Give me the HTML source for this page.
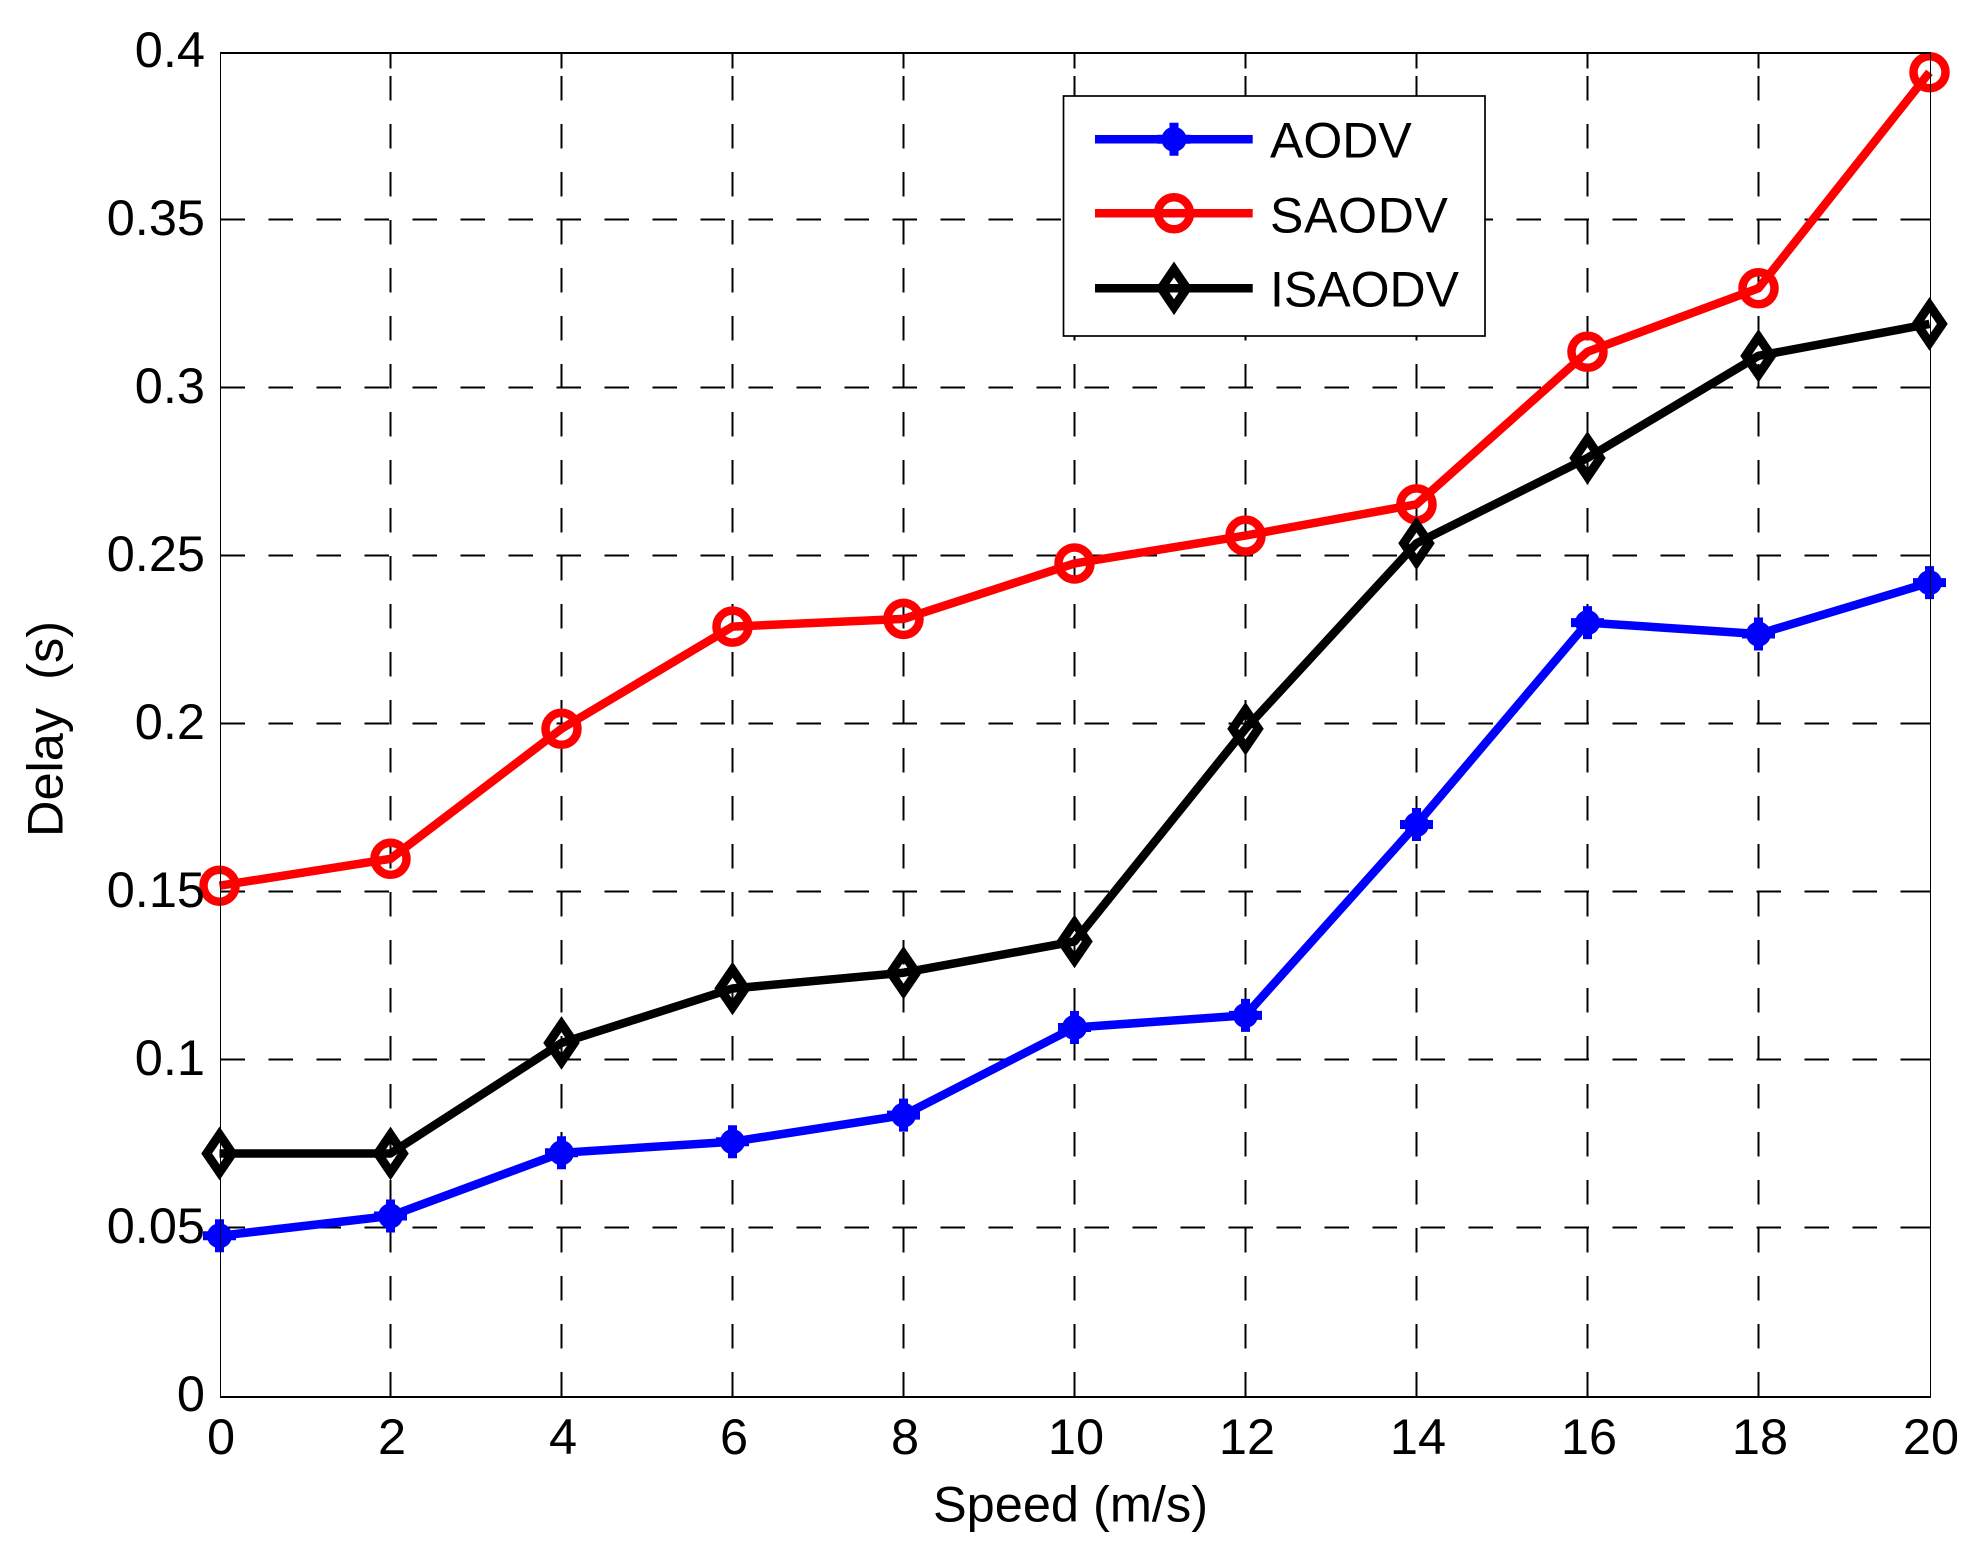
<!DOCTYPE html>
<html lang="en">
<head>
<meta charset="utf-8">
<title>Delay vs Speed</title>
<style>
html,body{margin:0;padding:0;background:#fff;}
body{width:1983px;height:1550px;overflow:hidden;}
svg{display:block;}
text{font-family:"Liberation Sans",Arial,sans-serif;font-size:50.5px;fill:#000;}
</style>
</head>
<body>
<svg id="chart" width="1983" height="1550" viewBox="0 0 1983 1550" xmlns="http://www.w3.org/2000/svg">
  <rect x="0" y="0" width="1983" height="1550" fill="#ffffff"/>
  <g id="grid" shape-rendering="crispEdges"></g>
  <g id="series"></g>
  <g id="frame" shape-rendering="crispEdges">
    <line x1="220" y1="53" x2="1931" y2="53" stroke="#000" stroke-width="2"/>
    <line x1="220" y1="1397" x2="1931" y2="1397" stroke="#000" stroke-width="2"/>
    <line x1="220.5" y1="53" x2="220.5" y2="1397" stroke="#000" stroke-width="1.3"/>
    <line x1="1930.5" y1="53" x2="1930.5" y2="1397" stroke="#000" stroke-width="1.3"/>
  </g>
  <g id="ticks"></g>
  <text x="1070.5" y="1521.7" text-anchor="middle">Speed (m/s)</text>
  <text transform="translate(62.7 837) rotate(-90)" xml:space="preserve" style="white-space:pre">Delay  (s)</text>
  <g id="legend">
    <rect x="1063.5" y="96" width="421.5" height="240" fill="#ffffff" stroke="#000" stroke-width="1.7"/>
    <g id="legend-keys"></g>
    <text x="1270" y="157.3" style="font-size:50px">AODV</text>
    <text x="1270" y="232.7" style="font-size:50px;letter-spacing:0.7px">SAODV</text>
    <text x="1270" y="306.7" style="font-size:50px">ISAODV</text>
  </g>
</svg>
<script>
var speeds = [0, 2, 4, 6, 8, 10, 12, 14, 16, 18, 20];
var aodv = [0.0475, 0.0534, 0.0722, 0.0755, 0.0834, 0.1095, 0.1131, 0.1699, 0.2300, 0.2266, 0.2419];
var saodv = [0.1517, 0.1597, 0.1984, 0.2288, 0.2311, 0.2476, 0.2559, 0.2652, 0.3106, 0.3295, 0.3938];
var isaodv = [0.0720, 0.0720, 0.1049, 0.1211, 0.1258, 0.1351, 0.1984, 0.2536, 0.2790, 0.3094, 0.3189];
var xTickValues = [0, 2, 4, 6, 8, 10, 12, 14, 16, 18, 20];
var xTickLabels = ["0", "2", "4", "6", "8", "10", "12", "14", "16", "18", "20"];
var yTickValues = [0, 0.05, 0.1, 0.15, 0.2, 0.25, 0.3, 0.35, 0.4];
var yTickLabels = ["0", "0.05", "0.1", "0.15", "0.2", "0.25", "0.3", "0.35", "0.4"];
var seriesNames = ["aodv", "saodv", "isaodv"];

var NS = "http://www.w3.org/2000/svg";
var plotLeft = 219.5, plotRight = 1929.5, plotTop = 51.4, plotBottom = 1395.4;
var frameLeft = 220.5, frameRight = 1930.5, frameTop = 52.7, frameBottom = 1396.7;
var xMin = 0, xMax = 20, yMin = 0, yMax = 0.4;

function xScale(v) { return plotLeft + (v - xMin) / (xMax - xMin) * (plotRight - plotLeft); }
function yScale(v) { return plotBottom - (v - yMin) / (yMax - yMin) * (plotBottom - plotTop); }

function make(tag, parent) {
  var el = document.createElementNS(NS, tag);
  parent.appendChild(el);
  return el;
}

function setLine(el, x1, y1, x2, y2, color, width) {
  el.setAttribute("x1", x1);
  el.setAttribute("y1", y1);
  el.setAttribute("x2", x2);
  el.setAttribute("y2", y2);
  el.setAttribute("stroke", color);
  el.setAttribute("stroke-width", width);
}

function drawMarker(parent, kind, cx, cy, label) {
  var g = make("g", parent);
  
  
  g.setAttribute("transform", "translate(" + cx + " " + cy + ")");
  if (kind === "aodv") {
    var dot = make("circle", g);
    dot.setAttribute("r", "12.5");
    dot.setAttribute("fill", "#0000ff");
    var star = make("path", g);
    star.setAttribute("d", "M-4.5 -16.5H4.5V-4.5H16.5V4.5H4.5V16.5H-4.5V4.5H-16.5V-4.5H-4.5Z");
    star.setAttribute("fill", "#0000ff");
  } else if (kind === "saodv") {
    var ring = make("circle", g);
    ring.setAttribute("r", "16");
    ring.setAttribute("fill", "none");
    ring.setAttribute("stroke", "#ff0000");
    ring.setAttribute("stroke-width", "8.5");
  } else {
    var diamond = make("path", g);
    diamond.setAttribute("d", "M0 -18.8L12.8 0L0 18.8L-12.8 0Z");
    diamond.setAttribute("fill", "none");
    diamond.setAttribute("stroke", "#000000");
    diamond.setAttribute("stroke-width", "9");
    diamond.setAttribute("stroke-miterlimit", "10");
  }
}

var grid = document.getElementById("grid");
var ticks = document.getElementById("ticks");

xTickValues.forEach(function (v, i) {
  var x = xScale(v);
  if (i > 0 && i < xTickValues.length - 1) {
    var gl = make("line", grid);
    
    
    setLine(gl, x, frameBottom, x, frameTop, "#000", 1.6);
    gl.setAttribute("stroke-dasharray", "24.5 23.5");
    var tk = make("line", grid);
    
    
    setLine(tk, x, frameTop, x, frameTop + 16, "#000", 1.6);
  }
  var t = make("text", ticks);
  
  
  t.setAttribute("x", x + 1.5);
  t.setAttribute("y", 1454);
  t.setAttribute("text-anchor", "middle");
  t.textContent = xTickLabels[i];
});

yTickValues.forEach(function (v, i) {
  var y = yScale(v);
  if (i > 0 && i < yTickValues.length - 1) {
    var gl = make("line", grid);
    
    
    setLine(gl, frameLeft, y, frameRight, y, "#000", 2);
    gl.setAttribute("stroke-dasharray", "24.5 23.5");
    var tk = make("line", grid);
    
    
    setLine(tk, frameRight - 16, y, frameRight, y, "#000", 2);
  }
  var t = make("text", ticks);
  
  
  t.setAttribute("x", 205);
  t.setAttribute("y", y + 15.5);
  t.setAttribute("text-anchor", "end");
  t.textContent = yTickLabels[i];
});

var seriesColors = { aodv: "#0000ff", saodv: "#ff0000", isaodv: "#000000" };
var seriesValues = { aodv: aodv, saodv: saodv, isaodv: isaodv };
var seriesLayer = document.getElementById("series");

seriesNames.forEach(function (name) {
  var values = seriesValues[name];
  var group = make("g", seriesLayer);
  
  
  var pts = speeds.map(function (s, i) {
    return xScale(s).toFixed(2) + "," + yScale(values[i]).toFixed(2);
  }).join(" ");
  var line = make("polyline", group);
  
  
  line.setAttribute("points", pts);
  line.setAttribute("fill", "none");
  line.setAttribute("stroke", seriesColors[name]);
  line.setAttribute("stroke-width", "8.5");
  line.setAttribute("stroke-linejoin", "round");
  speeds.forEach(function (s, i) {
    drawMarker(group, name, xScale(s), yScale(values[i]), "marker-" + name);
  });
});

var legendKeys = document.getElementById("legend-keys");
var legendRowY = { aodv: 139.3, saodv: 213.3, isaodv: 288.3 };
seriesNames.forEach(function (name) {
  var key = make("line", legendKeys);
  
  
  setLine(key, 1095, legendRowY[name], 1252.7, legendRowY[name], seriesColors[name], 8.5);
  drawMarker(legendKeys, name, 1174, legendRowY[name], "legend-marker-" + name);
});
</script>
</body>
</html>
